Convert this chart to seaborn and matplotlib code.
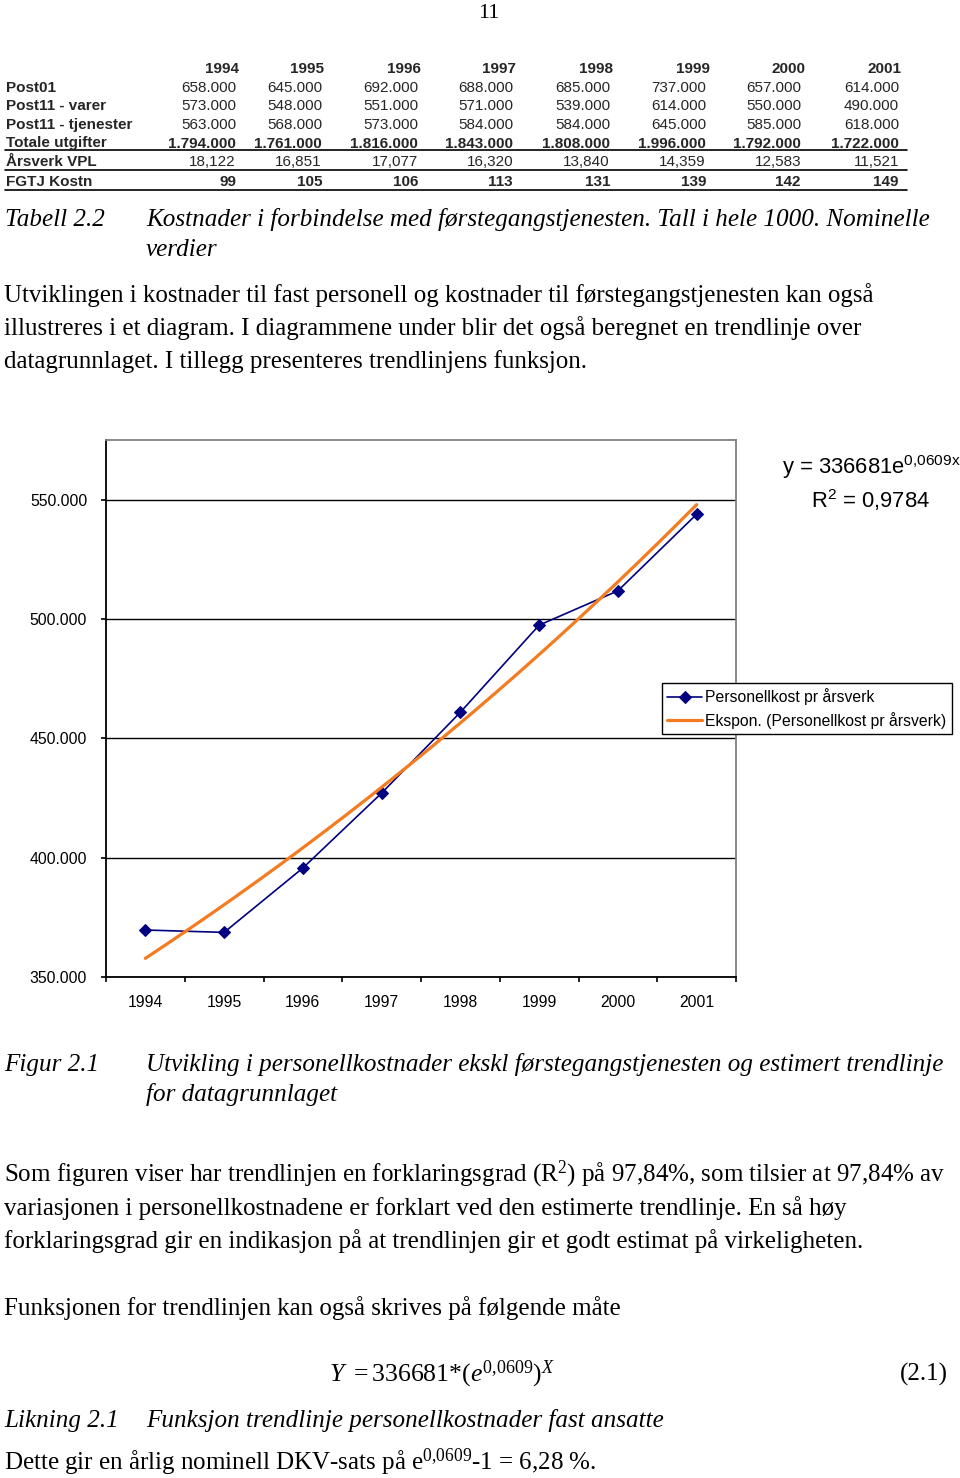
import numpy as np
import pandas as pd
import matplotlib
matplotlib.use("Agg")
import matplotlib.pyplot as plt
import seaborn as sns
from matplotlib.ticker import FuncFormatter
from matplotlib.lines import Line2D

# ---------------- data ----------------
years = ["1994", "1995", "1996", "1997", "1998", "1999", "2000", "2001"]
post01 = ["658.000", "645.000", "692.000", "688.000", "685.000", "737.000", "657.000", "614.000"]
post11_varer = ["573.000", "548.000", "551.000", "571.000", "539.000", "614.000", "550.000", "490.000"]
post11_tjenester = ["563.000", "568.000", "573.000", "584.000", "584.000", "645.000", "585.000", "618.000"]
totale_utgifter = ["1.794.000", "1.761.000", "1.816.000", "1.843.000", "1.808.000", "1.996.000", "1.792.000", "1.722.000"]
arsverk_vpl = ["18,122", "16,851", "17,077", "16,320", "13,840", "14,359", "12,583", "11,521"]
fgtj_kostn = ["99", "105", "106", "113", "131", "139", "142", "149"]
row_labels = ["Post01", "Post11 - varer", "Post11 - tjenester", "Totale utgifter", "Årsverk VPL", "FGTJ Kostn"]

personellkost = [369700, 368700, 395700, 427100, 461000, 497500, 511900, 544000]
trend_a = 336681      # from the chart's trendline label
trend_b = 0.0609
r2_text = "0,9784"
y_ticks = [350000, 400000, 450000, 500000, 550000]

series_label = "Personellkost pr årsverk"
trend_label = "Ekspon. (Personellkost pr årsverk)"

# ---------------- setup ----------------
W, H = 960, 1478
sns.set_theme(style="white")
SANS = ["Liberation Sans", "DejaVu Sans"]
SERIF = ["Liberation Serif", "DejaVu Serif"]
plt.rcParams["font.family"] = SANS
plt.rcParams["mathtext.fontset"] = "custom"
plt.rcParams["mathtext.rm"] = "Liberation Serif"
plt.rcParams["mathtext.it"] = "Liberation Serif:italic"

fig = plt.figure(figsize=(W / 100, H / 100), dpi=100)
fig.patch.set_facecolor("white")
renderer = fig.canvas.get_renderer()


def fx(x):
    return x / W


def fy(y):
    return 1 - y / H


# ---------------- page number ----------------
fig.text(fx(489), fy(18), "11", family=SERIF, fontsize=16, ha="center", va="baseline", color="black")

# ---------------- table ----------------
TFS = 11
head_right = [239, 324, 421, 516, 613, 710, 806, 901]
col_right = [236, 322, 418, 513, 610, 706, 801, 899]
row_base = [92, 110.5, 129, 147.5, 166.5, 186]
rows = [post01, post11_varer, post11_tjenester, totale_utgifter, arsverk_vpl, fgtj_kostn]
bold_vals = [False, False, False, True, False, True]

for yr, xr in zip(years, head_right):
    fig.text(fx(xr), fy(73), yr, fontsize=TFS, weight="bold", ha="right", va="baseline")
for lab, vals, yb, bv in zip(row_labels, rows, row_base, bold_vals):
    fig.text(fx(6), fy(yb), lab, fontsize=TFS, weight="bold", ha="left", va="baseline")
    for v, xr in zip(vals, col_right):
        fig.text(fx(xr), fy(yb), v, fontsize=TFS, weight="bold" if bv else "normal",
                 ha="right", va="baseline")
for yl in [150, 170, 190]:
    fig.add_artist(Line2D([fx(5), fx(907)], [fy(yl), fy(yl)], color="black", lw=1.2,
                          transform=fig.transFigure))


# ---------------- serif body text ----------------
def fit_size(text, target_w, style="normal", base=16.0):
    t = fig.text(0, 0, text, family=SERIF, style=style, fontsize=base)
    w = t.get_window_extent(renderer).width
    t.remove()
    return base * target_w / w


REG = fit_size("Utviklingen i kostnader til fast personell og kostnader til førstegangstjenesten kan også", 871)
ITA = fit_size("Kostnader i forbindelse med førstegangstjenesten. Tall i hele 1000. Nominelle", 782, "italic")
DY = 4


def serif(x, y, s, style="normal", ha="left", size=None, dy=DY):
    fig.text(fx(x), fy(y + dy), s, family=SERIF, style=style,
             fontsize=size if size else (ITA if style == "italic" else REG),
             ha=ha, va="baseline", color="black")


serif(5, 222, "Tabell 2.2", "italic")
serif(146, 222, "Kostnader i forbindelse med førstegangstjenesten. Tall i hele 1000. Nominelle", "italic")
serif(146, 252, "verdier", "italic")
serif(4, 298, "Utviklingen i kostnader til fast personell og kostnader til førstegangstjenesten kan også")
serif(4, 331, "illustreres i et diagram. I diagrammene under blir det også beregnet en trendlinje over")
serif(4, 364, "datagrunnlaget. I tillegg presenteres trendlinjens funksjon.")

serif(4, 1067, "Figur 2.1", "italic")
serif(146, 1067, "Utvikling i personellkostnader ekskl førstegangstjenesten og estimert trendlinje", "italic")
serif(146, 1097, "for datagrunnlaget", "italic")

serif(4, 1177, "Som figuren viser har trendlinjen en forklaringsgrad (R$\\mathregular{^2}$) på 97,84%, som tilsier at 97,84% av")
serif(4, 1211, "variasjonen i personellkostnadene er forklart ved den estimerte trendlinje. En så høy")
serif(4, 1244, "forklaringsgrad gir en indikasjon på at trendlinjen gir et godt estimat på virkeligheten.")
serif(4, 1311, "Funksjonen for trendlinjen kan også skrives på følgende måte")

serif(442, 1377, r"$Y\ =336681{*}(e^{0{,}0609})^{X}$", ha="center", size=REG * 1.03)
serif(948, 1377, "(2.1)", ha="right")

serif(4, 1423, "Likning 2.1", "italic")
serif(146, 1423, "Funksjon trendlinje personellkostnader fast ansatte", "italic")
serif(4, 1470, "Dette gir en årlig nominell DKV-sats på e$\\mathregular{^{0{,}0609}}$-1 = 6,28 %.", dy=0)

# ---------------- chart ----------------
ax_l, ax_r, ax_t, ax_b = 106, 736, 440, 977
ax = fig.add_axes([fx(ax_l), fy(ax_b), (ax_r - ax_l) / W, (ax_b - ax_t) / H])
ax.set_facecolor("white")

pos = np.arange(len(years))
df = pd.DataFrame({"pos": pos, "val": personellkost})
sns.lineplot(data=df, x="pos", y="val", ax=ax, color="#000080", lw=1.2,
             marker="D", markersize=6, markeredgecolor="#000080", markerfacecolor="#000080",
             label=series_label, zorder=3)

tx = np.linspace(1, len(years), 300)
tdf = pd.DataFrame({"pos": tx - 1, "val": trend_a * np.exp(trend_b * tx)})
sns.lineplot(data=tdf, x="pos", y="val", ax=ax, color="#F47B20", lw=2.3,
             label=trend_label, zorder=4, estimator=None)

ax.set_xlim(-0.5, len(years) - 0.5)
ax.set_ylim(350000, 575130)
ax.set_yticks(y_ticks)
ax.yaxis.set_major_formatter(FuncFormatter(lambda v, p: f"{int(round(v / 1000))}.000"))
ax.set_xticks(pos)
ax.set_xticklabels(years)
ax.set_xticks(np.arange(-0.5, len(years), 1.0), minor=True)
ax.set_xlabel("")
ax.set_ylabel("")

ax.tick_params(axis="x", which="major", bottom=True, length=0, pad=13, labelsize=11.3, labelcolor="black")
ax.tick_params(axis="x", which="minor", bottom=True, length=3.6, width=1.2, color="black", direction="out")
ax.tick_params(axis="y", which="major", left=True, length=3.6, width=1.2, color="black",
               direction="out", pad=10, labelsize=11.3, labelcolor="black")

ax.grid(False)
ax.yaxis.grid(True, color="black", lw=1.0)
ax.set_axisbelow(True)

for side in ["left", "bottom"]:
    ax.spines[side].set_color("black")
    ax.spines[side].set_linewidth(1.3)
for side in ["top", "right"]:
    ax.spines[side].set_color("#808080")
    ax.spines[side].set_linewidth(1.3)

leg = ax.legend(loc="upper left", bbox_to_anchor=(fx(662), fy(683)), bbox_transform=fig.transFigure,
                frameon=True, fancybox=False, edgecolor="black", framealpha=1, facecolor="white",
                fontsize=11.3, handlelength=2.2, handletextpad=0.2, borderpad=0.35,
                labelspacing=0.4, borderaxespad=0)
leg.get_frame().set_linewidth(1.0)
for t in leg.get_texts():
    t.set_color("black")

# trendline equation labels
fig.text(fx(782), fy(474), "y = 336681e$\\mathregular{^{0{,}0609x}}$", fontsize=15.8,
         ha="left", va="baseline", color="black")
fig.text(fx(811), fy(508), "R$\\mathregular{^2}$ = " + r2_text, fontsize=15.8,
         ha="left", va="baseline", color="black")

fig.savefig("out.png", dpi=100, facecolor="white")
